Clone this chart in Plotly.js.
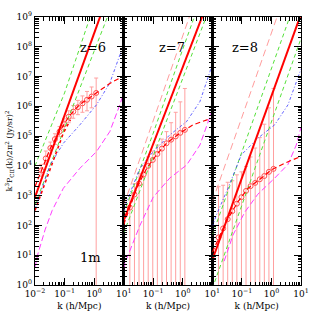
<!DOCTYPE html>
<html><head><meta charset="utf-8">
<script src="https://cdn.plot.ly/plotly-3.0.1.min.js"></script>
<style>html,body{margin:0;padding:0;background:#fff}#chart{width:319px;height:319px}</style>
</head><body><div id="chart"></div>
<script>
// ---- data (all powers are log10 of k^3 P_CII / 2pi^2 in (Jy/sr)^2; k in h/Mpc) ----
var panelLabels = ['z=6', 'z=7', 'z=8'];
var kLine = [0.01, 0.1, 1, 10];                 // k for the straight (noise) lines
var kBin = [0.0162, 0.0232, 0.0331, 0.0473, 0.0676, 0.0966, 0.138, 0.197, 0.282, 0.403, 0.575, 0.822, 1.175];

// z = 6
var z6_noise = [2.95, 5.7, 8.45, 11.2];
var z6_noiseHi = [4.0, 6.45, 9.4, 12.3];
var z6_noiseLo = [2.7, 5.3, 7.85, 10.4];
var z6_blue_lk = [-2, -1.49, -1.04, -0.48, 0.08, 0.53, 0.87, 1.0];
var z6_blue_lp = [2.55, 4.03, 4.76, 5.38, 6.05, 6.78, 7.72, 8.05];
var z6_mag_lk = [-2, -1.9, -1.66, -1.42, -1.04, -0.48, 0.08, 0.53, 0.87, 1.0];
var z6_mag_lp = [0.6, 1.05, 1.85, 2.5, 3.25, 3.92, 4.48, 5.15, 6.05, 6.45];
var z6_sig_lk = [-2, -1.79, -1.5, -1.2, -0.86, -0.5, -0.1, 0.3, 0.55, 1.0];
var z6_sig_lp = [3.3, 3.85, 4.55, 5.1, 5.65, 6.05, 6.33, 6.62, 6.78, 7.02];
var z6_dot_lk = [-2, -1.6, -1.32, -1.04, -0.8];
var z6_dot_lp = [2.5, 3.59, 4.37, 5.1, 5.55];
var z6_bin = [3.85, 4.25, 4.6, 4.9, 5.15, 5.4, 5.65, 5.82, 5.97, 6.1, 6.22, 6.33, 6.45];
var z6_binHi = [4.05, 4.5, 4.8, 5.08, 5.32, 5.58, 5.85, 6.03, 6.2, 6.35, 6.5, 6.65, 6.95];
var z6_binLo = [3.65, 4.05, 4.4, 4.72, 4.98, 5.22, 5.45, 5.6, 5.72, 5.8, 5.85, 5.95, null];

// z = 7
var z7_pink = [2.67, 5.52, 8.37, 11.22];
var z7_noise = [2.16, 4.73, 7.31, 9.9];
var z7_noiseHi = [2.4, 5.1, 7.92, 10.7];
var z7_noiseLo = [1.74, 4.34, 6.94, 9.54];
var z7_blue_lk = [-2, -1.9, -1.45, -1.0, -0.44, 0.13, 0.58, 0.92, 1.0];
var z7_blue_lp = [2.45, 2.8, 3.92, 4.48, 5.04, 5.49, 6.16, 7.16, 7.5];
var z7_mag_lk = [-2, -1.96, -1.45, -1.0, -0.44, 0.13, 0.58, 0.86, 1.0];
var z7_mag_lp = [0.55, 0.73, 2.0, 2.95, 3.59, 4.03, 4.7, 5.49, 5.88];
var z7_sig_lk = [-2, -1.56, -1.22, -0.89, -0.55, -0.1, 0.35, 0.8, 1.0];
var z7_sig_lp = [2.02, 3.25, 3.92, 4.37, 4.76, 5.1, 5.38, 5.54, 5.61];
var z7_bin = [2.6, 3.04, 3.41, 3.71, 4.0, 4.2, 4.4, 4.58, 4.76, 4.88, 4.99, 5.11, 5.21];
var z7_binHi = [3.0, 3.4, 3.75, 4.0, 4.3, 4.5, 4.7, 4.9, 5.15, 5.45, 5.8, 6.15, 6.6];
var z7_binLo = [null, null, null, null, null, null, null, null, null, null, null, null, null];

// z = 8
var z8_pink = [2.8, 5.64, 8.48, 11.3];
var z8_noise = [0.84, 3.6, 6.35, 9.1];
var z8_noiseHi = [1.67, 4.47, 7.27, 10.07];
var z8_noiseLo = [-0.12, 2.68, 5.48, 8.28];
var z8_blue_lk = [-2, -1.86, -1.47, -1.02, -0.46, 0.11, 0.56, 0.9, 1.0];
var z8_blue_lp = [1.95, 2.36, 3.25, 4.37, 4.93, 5.38, 6.05, 6.94, 7.25];
var z8_mag_lk = [-1.6, -1.3, -0.9, -0.46, 0.11, 0.56, 0.84, 1.0];
var z8_mag_lp = [0.8, 1.68, 2.45, 3.05, 3.59, 4.05, 4.7, 5.3];
var z8_sig_lk = [-2, -1.53, -1.13, -0.79, -0.34, 0, 0.45, 0.9, 1.0];
var z8_sig_lp = [1.1, 2.13, 2.8, 3.25, 3.59, 3.87, 4.09, 4.28, 4.32];
var z8_bin = [1.6, 1.9, 2.21, 2.48, 2.73, 2.95, 3.16, 3.32, 3.43, 3.55, 3.66, 3.8, 3.9];
var z8_binHi = [3.3, 3.35, 3.45, 3.5, 3.7, 3.8, 3.98, 4.3, 4.6, 4.95, 5.4, 5.95, 6.6];
var z8_binLo = [null, null, null, null, null, null, null, null, null, null, null, null, null];

// ---- build ----
function pw(a) { return a.map(function (v) { return v === null ? null : Math.pow(10, v); }); }
var FONT = 'DejaVu Serif';
var traces = [];
function line(n, xs, ys, color, width, dash) {
  traces.push({type: 'scatter', mode: 'lines', x: xs, y: ys, xaxis: n === 1 ? 'x' : 'x' + n, yaxis: n === 1 ? 'y' : 'y' + n,
    line: {color: color, width: width, dash: dash}, hoverinfo: 'skip', showlegend: false});
}
function points(n, P, hi, lo) {
  var p = pw(P), h = pw(hi), l = pw(lo);
  var up = p.map(function (v, i) { return h[i] - v; });
  var dn = p.map(function (v, i) { return l[i] === null ? v : v - l[i]; });
  traces.push({type: 'scatter', mode: 'markers', x: kBin, y: p, xaxis: n === 1 ? 'x' : 'x' + n, yaxis: n === 1 ? 'y' : 'y' + n,
    marker: {symbol: 'circle-open', size: 5, color: '#ff5050', line: {width: 1}},
    error_y: {type: 'data', symmetric: false, array: up, arrayminus: dn, color: '#ffa0a0', thickness: 1, width: 2},
    hoverinfo: 'skip', showlegend: false});
}
var GREEN = '#55e03a', PINK = '#ff9c9c', RED = '#ff0000', BLUE = '#3a3aff', MAG = '#ff3cff';
var panels = [
  {n: 1, pink: null, noise: z6_noise, hi: z6_noiseHi, lo: z6_noiseLo, blk: z6_blue_lk, blp: z6_blue_lp, mlk: z6_mag_lk, mlp: z6_mag_lp, slk: z6_sig_lk, slp: z6_sig_lp, b: z6_bin, bh: z6_binHi, bl: z6_binLo},
  {n: 2, pink: z7_pink, noise: z7_noise, hi: z7_noiseHi, lo: z7_noiseLo, blk: z7_blue_lk, blp: z7_blue_lp, mlk: z7_mag_lk, mlp: z7_mag_lp, slk: z7_sig_lk, slp: z7_sig_lp, b: z7_bin, bh: z7_binHi, bl: z7_binLo},
  {n: 3, pink: z8_pink, noise: z8_noise, hi: z8_noiseHi, lo: z8_noiseLo, blk: z8_blue_lk, blp: z8_blue_lp, mlk: z8_mag_lk, mlp: z8_mag_lp, slk: z8_sig_lk, slp: z8_sig_lp, b: z8_bin, bh: z8_binHi, bl: z8_binLo}
];
panels.forEach(function (d) {
  points(d.n, d.b, d.bh, d.bl);
  if (d.pink) line(d.n, kLine, pw(d.pink), PINK, 1, '7px,4px');
  line(d.n, kLine, pw(d.hi), GREEN, 1, '4px,3px');
  line(d.n, kLine, pw(d.lo), GREEN, 1, '4px,3px');
  line(d.n, pw(d.blk), pw(d.blp), BLUE, 0.8, '3px,2px,1px,2px');
  line(d.n, pw(d.mlk), pw(d.mlp), MAG, 1, '6px,3px');
  line(d.n, pw(d.slk), pw(d.slp), RED, 1.2, '5px,3px');
  line(d.n, kLine, pw(d.noise), RED, 2, 'solid');
});
line(1, pw(z6_dot_lk), pw(z6_dot_lp), RED, 1.5, 'dot');

// ---- axes ----
var majorY = [], majorYText = [];
for (var e = 0; e <= 9; e++) { majorY.push(Math.pow(10, e)); majorYText.push('10<sup>' + e + '</sup>'); }
var tickFont = {family: FONT, size: 9, color: '#000'};
var minorCfg = {tickmode: 'linear', tick0: 1, dtick: 'D1', ticks: 'inside', ticklen: 3.5, tickcolor: '#000', tickwidth: 1, showgrid: false};
function xaxis(dom, vals, text) {
  return {type: 'log', range: [-2, 1], domain: dom, tickmode: 'array', tickvals: vals, ticktext: text,
    ticks: 'inside', ticklen: 7, tickwidth: 1, tickcolor: '#000', mirror: 'allticks', showline: true,
    linecolor: '#000', linewidth: 1.2, showgrid: false, zeroline: false, tickfont: tickFont, automargin: false,
    minor: minorCfg,
    title: {text: 'k (h/Mpc)', font: {family: FONT, size: 9, color: '#000'}, standoff: 4}};
}
function yaxis(anchor, showLabels) {
  return {type: 'log', range: [0, 9], domain: [0, 1], anchor: anchor, tickmode: 'array', tickvals: majorY, ticktext: majorYText,
    showticklabels: showLabels, ticks: 'inside', ticklen: 7, tickwidth: 1, tickcolor: '#000', mirror: 'allticks',
    showline: true, linecolor: '#000', linewidth: 1.2, showgrid: false, zeroline: false, tickfont: tickFont, automargin: false,
    minor: minorCfg};
}
var sup = function (s) { return '10<sup>' + s + '</sup>'; };
var layout = {
  width: 319, height: 319, margin: {l: 35, r: 18, t: 17, b: 34}, paper_bgcolor: '#fff', plot_bgcolor: '#fff', showlegend: false,
  xaxis: xaxis([0, 1 / 3], [0.01, 0.1, 1, 10], [sup('\u22122'), sup('\u22121'), sup('0'), sup('1')]),
  xaxis2: xaxis([1 / 3, 2 / 3], [0.1, 1, 10], [sup('\u22121'), sup('0'), sup('1')]),
  xaxis3: xaxis([2 / 3, 1], [0.1, 1, 10], [sup('\u22121'), sup('0'), sup('1')]),
  yaxis: yaxis('x', true),
  yaxis2: yaxis('x2', false),
  yaxis3: yaxis('x3', false),
  annotations: [
    {text: panelLabels[0], xref: 'paper', yref: 'paper', x: 0.162, y: 0.922, showarrow: false, font: {family: FONT, size: 13, color: '#000'}},
    {text: panelLabels[1], xref: 'paper', yref: 'paper', x: 0.515, y: 0.922, showarrow: false, font: {family: FONT, size: 13, color: '#000'}},
    {text: panelLabels[2], xref: 'paper', yref: 'paper', x: 0.846, y: 0.922, showarrow: false, font: {family: FONT, size: 13, color: '#000'}},
    {text: '1m', xref: 'paper', yref: 'paper', x: 0.162, y: 0.067, showarrow: false, font: {family: FONT, size: 13, color: '#000'}}
  ]
};
layout.yaxis.title = {text: 'k<sup>3</sup>P<sub>CII</sub>(k)/2\u03c0<sup>2</sup> (Jy/sr)<sup>2</sup>', font: {family: FONT, size: 8, color: '#000'}, standoff: 2};
Plotly.newPlot('chart', traces, layout, {staticPlot: true, displayModeBar: false});
</script></body></html>
